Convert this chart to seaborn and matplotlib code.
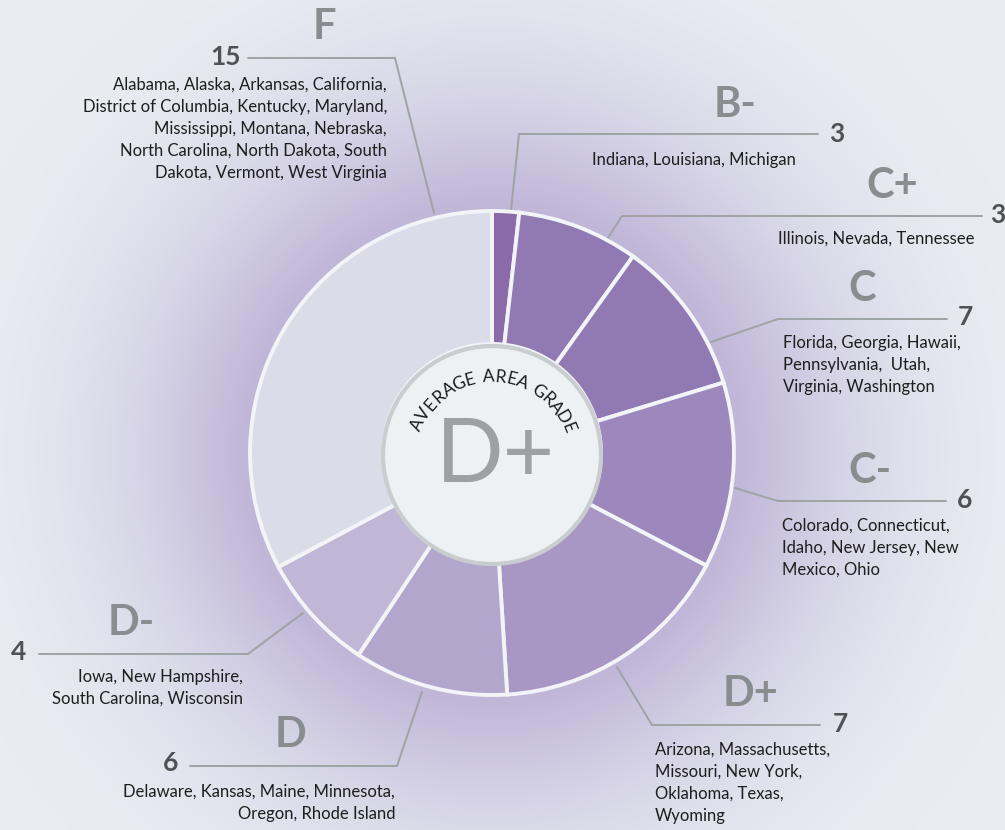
import numpy as np
import matplotlib
matplotlib.use("Agg")
import matplotlib.pyplot as plt
import seaborn as sns
from matplotlib.patches import Circle

# grades clockwise from 12 o'clock
grades = ["B-", "C+", "C", "C-", "D+", "D", "D-", "F"]
counts = [3, 3, 7, 6, 7, 6, 4, 15]
# slice shares as drawn in the graphic (percent of circle)
shares = [1.8, 8.1, 10.4, 12.4, 16.3, 10.3, 7.9, 32.8]
colors = ["#8a6aa9", "#9179b3", "#9179b3", "#9c88bd", "#a897c5", "#b3a6cc", "#c0b6d6", "#dcdce9"]
states = [
    ["Indiana, Louisiana, Michigan"],
    ["Illinois, Nevada, Tennessee"],
    ["Florida, Georgia, Hawaii,", "Pennsylvania,  Utah,", "Virginia, Washington"],
    ["Colorado, Connecticut,", "Idaho, New Jersey, New", "Mexico, Ohio"],
    ["Arizona, Massachusetts,", "Missouri, New York,", "Oklahoma, Texas,", "Wyoming"],
    ["Delaware, Kansas, Maine, Minnesota,", "Oregon, Rhode Island"],
    ["Iowa, New Hampshire,", "South Carolina, Wisconsin"],
    ["Alabama, Alaska, Arkansas, California,", "District of Columbia, Kentucky, Maryland,",
     "Mississippi, Montana, Nebraska,", "North Carolina, North Dakota, South",
     "Dakota, Vermont, West Virginia"],
]
center_title = "AVERAGE AREA GRADE"
average_grade = "D+"

W, H = 1005, 830
CX, CY = 492, 453
R_OUT, R_IN = 242, 109

sns.set_theme(style="white")
plt.rcParams["font.family"] = ["Lato", "DejaVu Sans"]

fig = plt.figure(figsize=(W / 100, H / 100), dpi=100)
ax = fig.add_axes([0, 0, 1, 1])

def Y(y):
    return H - y

# background with purple glow
xx, yy = np.meshgrid(np.arange(W) + 0.5, np.arange(H) + 0.5)
d = np.hypot(xx - CX, yy - CY)
t = np.clip(np.exp(-(d / 325.0) ** 2.6), 0, 1)[..., None]
bg = np.array([234, 238, 242]) / 255
glow = np.array([165, 148, 200]) / 255
img = bg * (1 - t) + glow * t
ax.imshow(img, extent=(0, W, 0, H), origin="upper", zorder=0, interpolation="bilinear")

# layout of labels (pixel positions)
lay = {
    "B-": dict(g=(735, 105), n=(837, 134), s=(592, 160, "left"),
               line=[(511, 210), (519, 134), (818, 134)]),
    "C+": dict(g=(892, 186), n=(998, 215), s=(778, 239, "left"),
               line=[(608, 238), (622, 216), (982, 216)]),
    "C": dict(g=(862, 289), n=(965, 317), s=(783, 343, "left"),
              line=[(711, 342), (778, 319), (947, 319)]),
    "C-": dict(g=(870, 471), n=(965, 500), s=(782, 526, "left"),
               line=[(735, 488), (778, 501), (946, 501)]),
    "D+": dict(g=(750, 694), n=(840, 724), s=(655, 750, "left"),
               line=[(617, 667), (652, 725), (820, 725)]),
    "D": dict(g=(291, 735), n=(171, 763), s=(395, 792, "right"),
              line=[(422, 692), (397, 766), (190, 766)]),
    "D-": dict(g=(131, 623), n=(19, 652), s=(243, 677, "right"),
               line=[(303, 613), (248, 654), (39, 654)]),
    "F": dict(g=(324, 27), n=(225, 57), s=(387, 85, "right"),
              line=[(248, 58), (395, 58), (434, 213)]),
}

for g, c, st in zip(grades, counts, states):
    L = lay[g]
    px, py = zip(*L["line"])
    ax.plot(px, [Y(v) for v in py], color="#9ea3a4", lw=1.4, zorder=1,
            solid_joinstyle="miter")
    ax.text(L["g"][0], Y(L["g"][1]), g, ha="center", va="center", fontsize=30,
            fontweight="bold", color="#8a8d8f", zorder=5)
    ax.text(L["n"][0], Y(L["n"][1]), str(c), ha="center", va="center", fontsize=19,
            fontweight="bold", color="#4f5254", zorder=5)
    sx, sy, ha = L["s"]
    for i, line in enumerate(st):
        ax.text(sx, Y(sy + i * 22.0), line, ha=ha, va="center", fontsize=12,
                color="#1e1e1e", zorder=5)

# donut
ax.pie(shares, colors=colors, startangle=90, counterclock=False,
       radius=R_OUT, center=(CX, Y(CY)),
       wedgeprops=dict(width=R_OUT - R_IN, edgecolor="#f2f4f7", linewidth=2.8))
ax.add_patch(Circle((CX, Y(CY + 2)), R_IN, facecolor="#edf1f4", edgecolor="#c9cdd0",
                    lw=3, zorder=3))

# big average grade
ax.text(CX + 3, Y(482), average_grade, ha="center", va="baseline", fontsize=64,
        color="#9da1a4", zorder=6)

# curved title, letters evenly stepped along an arc
fs = 12.5
weights = np.array([0.55 if ch == " " else 1.0 for ch in center_title])
cum = np.cumsum(weights) - weights / 2
a0, a1 = -65.5, 68.5
angles = a0 + (cum - cum[0]) / (cum[-1] - cum[0]) * (a1 - a0)
tcx, tcy, tr = 492, 458, 81
for ch, a in zip(center_title, angles):
    if ch == " ":
        continue
    r = np.radians(a)
    ax.text(tcx + tr * np.sin(r), Y(tcy - tr * np.cos(r)), ch, ha="center", va="center",
            rotation=-a, rotation_mode="anchor", fontsize=fs, color="#1a1a1a", zorder=6)

ax.set_xlim(0, W)
ax.set_ylim(0, H)
ax.set_aspect("auto")
ax.axis("off")
fig.savefig("out.png", dpi=100)
